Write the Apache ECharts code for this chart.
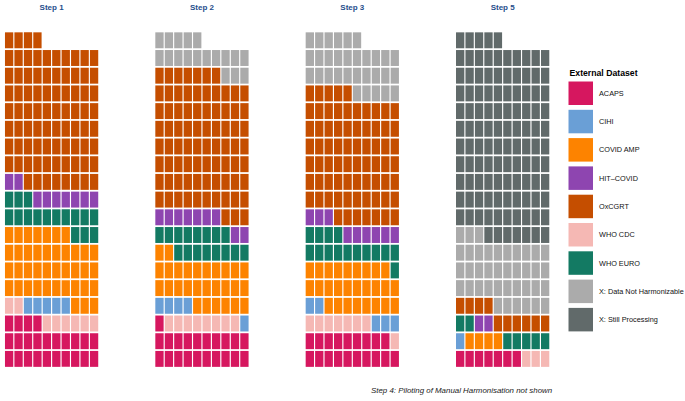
<!DOCTYPE html>
<html>
<head>
<meta charset="utf-8">
<script src="https://cdn.jsdelivr.net/npm/echarts@6/dist/echarts.min.js"></script>
<style>html,body{margin:0;padding:0;background:#fff;}#c{width:685px;height:401px;}</style>
</head>
<body>
<div id="c"></div>
<script>
// Panel titles
const steps = ['Step 1', 'Step 2', 'Step 3', 'Step 5'];
// Datasets in the order the waffle cells are filled (bottom-left upward)
const fillOrder = ['ACAPS', 'WHO CDC', 'CIHI', 'COVID AMP', 'WHO EURO', 'HIT\u2013COVID', 'OxCGRT', 'X: Data Not Harmonizable', 'X: Still Processing'];
// Legend order
const legendOrder = ['ACAPS', 'CIHI', 'COVID AMP', 'HIT\u2013COVID', 'OxCGRT', 'WHO CDC', 'WHO EURO', 'X: Data Not Harmonizable', 'X: Still Processing'];
// Cell counts per step (fillOrder)
const step1 = [24, 8, 5, 40, 16, 9, 82, 0, 0];
const step2 = [21, 8, 5, 28, 16, 9, 80, 18, 0];
const step3 = [19, 8, 5, 27, 15, 9, 72, 31, 0];
const step5 = [7, 3, 1, 4, 7, 2, 10, 39, 112];
const colours = {
  'ACAPS': '#D6175F',
  'CIHI': '#6A9FD6',
  'COVID AMP': '#FD8300',
  'HIT\u2013COVID': '#8E45B0',
  'OxCGRT': '#C54E00',
  'WHO CDC': '#F5B8B4',
  'WHO EURO': '#137A63',
  'X: Data Not Harmonizable': '#ABABAB',
  'X: Still Processing': '#616A6A'
};
const caption = 'Step 4: Piloting of Manual Harmonisation not shown';
const legendTitle = 'External Dataset';

const allSteps = [step1, step2, step3, step5];
const nCols = 10, nRows = 19;
const panelLeft = 4.4, panelPitch = 150.35, panelW = 94.4, panelTop = 31.45, panelH = 336.3;

const grids = [], xAxes = [], yAxes = [], series = [], titles = [];
allSteps.forEach((counts, p) => {
  grids.push({left: panelLeft + p * panelPitch, top: panelTop, width: panelW, height: panelH});
  xAxes.push({gridIndex: p, type: 'value', min: -0.5, max: nCols - 0.5, show: false});
  yAxes.push({gridIndex: p, type: 'value', min: -0.5, max: nRows - 0.5, show: false});
  titles.push({
    text: steps[p], left: panelLeft + p * panelPitch + panelW / 2, top: 3, textAlign: 'center', padding: 0,
    textStyle: {fontSize: 8, fontWeight: 'bold', color: '#1F4E8C', fontFamily: 'Liberation Sans'}
  });
  let idx = 0;
  counts.forEach((n, d) => {
    const cells = [];
    for (let k = 0; k < n; k++) {
      cells.push([idx % nCols, Math.floor(idx / nCols)]);
      idx++;
    }
    series.push({
      type: 'custom', name: fillOrder[d], xAxisIndex: p, yAxisIndex: p,
      itemStyle: {color: colours[fillOrder[d]]},
      data: cells,
      renderItem: function (params, api) {
        const c = api.coord([api.value(0), api.value(1)]);
        const s = api.size([1, 1]);
        return {
          type: 'rect',
          shape: {x: c[0] - s[0] * 0.44, y: c[1] - s[1] * 0.45, width: s[0] * 0.88, height: s[1] * 0.9},
          style: api.style()
        };
      }
    });
  });
});

const chart = echarts.init(document.getElementById('c'), null, {renderer: 'svg'});
chart.setOption({
  animation: false,
  backgroundColor: '#ffffff',
  title: titles,
  grid: grids,
  xAxis: xAxes,
  yAxis: yAxes,
  color: legendOrder.map(n => colours[n]),
  legend: {
    orient: 'vertical', left: 568.5, top: 81.5, padding: 0,
    itemWidth: 24.5, itemHeight: 23.5, itemGap: 4.8, icon: 'rect',
    data: legendOrder.map(n => ({name: n, itemStyle: {color: colours[n]}})),
    textStyle: {fontSize: 7.3, color: '#111', fontFamily: 'Liberation Sans', padding: [0, 0, 0, 1]},
    selectedMode: false
  },
  graphic: [
    {type: 'text', left: 569.5, top: 68, style: {text: legendTitle, fontSize: 8.7, fontWeight: 'bold', fill: '#000', fontFamily: 'Liberation Sans'}},
    {type: 'text', left: 371, top: 386.5, style: {text: caption, fontSize: 7.9, fontStyle: 'italic', fill: '#222', fontFamily: 'Liberation Sans'}}
  ],
  series: series
});
</script>
</body>
</html>
